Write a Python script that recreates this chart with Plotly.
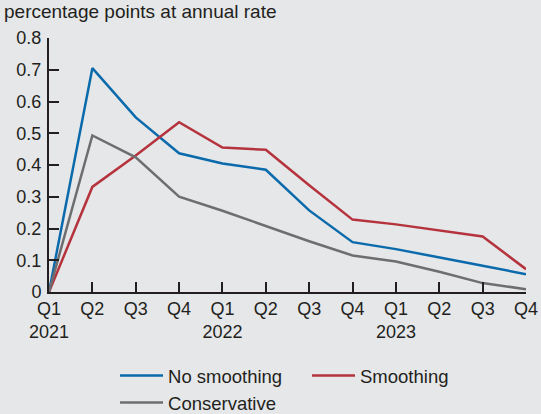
import plotly.graph_objects as go

quarters = ["Q1", "Q2", "Q3", "Q4", "Q1", "Q2", "Q3", "Q4", "Q1", "Q2", "Q3", "Q4"]
years = ["2021", "", "", "", "2022", "", "", "", "2023", "", "", ""]
no_smoothing = [0.0, 0.705, 0.55, 0.437, 0.405, 0.385, 0.257, 0.157, 0.135, 0.11, 0.083, 0.056]
smoothing = [0.0, 0.331, 0.43, 0.535, 0.455, 0.448, 0.336, 0.228, 0.213, 0.194, 0.175, 0.072]
conservative = [0.0, 0.493, 0.424, 0.30, 0.256, 0.208, 0.16, 0.115, 0.096, 0.064, 0.028, 0.009]

x = list(range(len(quarters)))
ticktext = [q + ("<br>" + y if y else "") for q, y in zip(quarters, years)]

BG = "#e6e7e9"
fig = go.Figure()
fig.add_trace(go.Scatter(x=x, y=no_smoothing, mode="lines", name="No smoothing",
                         line=dict(color="#0a6aab", width=2.5)))
fig.add_trace(go.Scatter(x=x, y=smoothing, mode="lines", name="Smoothing",
                         line=dict(color="#b5333d", width=2.5)))
fig.add_trace(go.Scatter(x=x, y=conservative, mode="lines", name="Conservative",
                         line=dict(color="#6e6e70", width=2.5)))

font = dict(family="Liberation Sans, Arial, sans-serif", size=18, color="#231f20")
fig.update_layout(
    width=541, height=414,
    paper_bgcolor=BG, plot_bgcolor=BG,
    margin=dict(l=49, r=15, t=38, b=122, autoexpand=False),
    font=font,
    showlegend=True,
    legend=dict(orientation="h", xref="container", yref="container",
                x=0.2126, xanchor="left", y=1 - 357 / 414, yanchor="top",
                entrywidth=134, entrywidthmode="pixels", bgcolor="rgba(0,0,0,0)",
                font=dict(size=18.5), tracegroupgap=0, itemwidth=43),
    annotations=[dict(text="percentage points at annual rate", xref="paper", yref="paper",
                      x=-0.098, y=1.0, xanchor="left", yanchor="middle", yshift=27,
                      showarrow=False, font=dict(size=19, color="#231f20"))],
)
fig.update_xaxes(range=[0, 11], tickvals=x, ticktext=ticktext, showgrid=False, zeroline=False,
                 showline=True, linecolor="#231f20", linewidth=2, ticks="inside", ticklen=10,
                 tickwidth=2, tickcolor="#231f20", fixedrange=True, automargin=False,
                 ticklabelstandoff=-1)
fig.update_yaxes(range=[0, 0.8], tickvals=[0, 0.1, 0.2, 0.3, 0.4, 0.5, 0.6, 0.7, 0.8],
                 ticktext=["0", "0.1", "0.2", "0.3", "0.4", "0.5", "0.6", "0.7", "0.8"],
                 showgrid=False, zeroline=False, showline=True, linecolor="#231f20", linewidth=2,
                 ticks="inside", ticklen=10, tickwidth=2, tickcolor="#231f20", fixedrange=True,
                 automargin=False, ticklabelstandoff=2)

fig.write_html("out.html", config={"displayModeBar": False},
               post_script="document.body.style.margin='0';document.body.style.background='" + BG + "';")
